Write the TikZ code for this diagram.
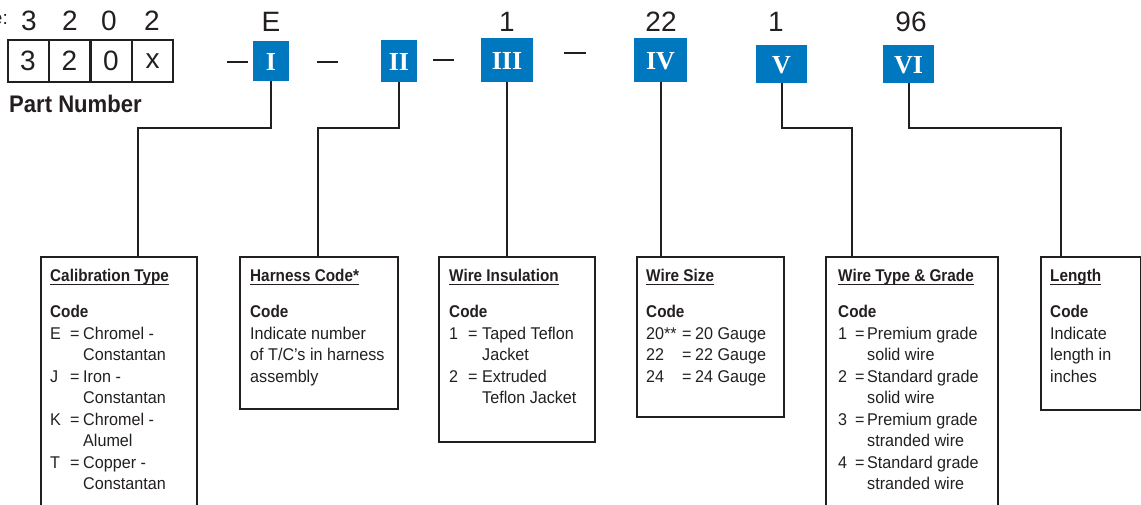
\documentclass[tikz,border=0pt]{standalone}
\usepackage{fontspec}
\setmainfont{Liberation Sans}
\newfontfamily\nar[FakeStretch=0.95]{Liberation Sans}
\newfontfamily\narb[FakeStretch=0.9]{Liberation Sans}
\newfontfamily\pnfont[FakeStretch=0.92]{Liberation Sans}
\newfontfamily\romfont{Liberation Serif}
\definecolor{pnblue}{RGB}{0,120,192}
\definecolor{ink}{RGB}{35,31,32}
\newcommand\myul[1]{\setbox0\hbox{#1}\rlap{\rule[-2.6pt]{\wd0}{0.9pt}}\box0}
\newcommand\ttl[1]{\myul{\narb\bfseries #1}}
\newcommand\cod{{\narb\bfseries Code}}
\newcommand\ent[4]{\makebox[#1][l]{#3}\makebox[#2][l]{=}#4}
\usetikzlibrary{calc}
\tikzset{
  x=1pt, y=-1pt,
  bluebox/.style={fill=pnblue, inner sep=0pt, text=white,
    font=\romfont\bfseries\fontsize{26}{26}\selectfont, text height=19pt, text depth=0pt},
  topnum/.style={anchor=base, inner sep=0pt, text=ink, font=\fontsize{28}{28}\selectfont},
  digitbox/.style={draw=ink, line width=2pt, minimum width=41pt, minimum height=42pt,
    inner sep=0pt, text=ink, font=\fontsize{28}{28}\selectfont},
  infobox/.style={draw=ink, line width=2pt, anchor=north west, inner sep=0pt},
  boxtext/.style={anchor=base west, inner sep=0pt, text=ink,
    font=\nar\fontsize{17}{21.5}\selectfont},
  conn/.style={draw=ink, line width=2pt},
  dashmark/.style={draw=ink, line width=2.2pt},
}
\begin{document}
\begin{tikzpicture}
\clip (0,0) rectangle (1141,505);
% example label (clipped at left edge, as in the reference)
\node[anchor=base east, inner sep=0pt, text=ink, font=\fontsize{19}{19}\selectfont] (ex) at (8,25) {Example:};
% top numbers
\node[topnum] (d1) at (29,31) {3};
\node[topnum] (d2) at (70,31) {2};
\node[topnum] (d3) at (109,31) {0};
\node[topnum] (d4) at (152,31) {2};
\node[topnum] (tE) at (271,32) {E};
\node[topnum] (t1) at (507,32) {1};
\node[topnum] (t22) at (661,32) {22};
\node[topnum] (t1b) at (776,32) {1};
\node[topnum] (t96) at (911,32) {96};
% part number boxes
\node[digitbox] (b1) at (28,61) {3};
\node[digitbox] (b2) at (69.5,61) {2};
\node[digitbox] (b3) at (111,61) {0};
\node[digitbox] (b4) at (152.5,61) {x};
\node[anchor=base west, inner sep=0pt, text=ink, font=\pnfont\bfseries\fontsize{24}{24}\selectfont] (pn) at (9,113) {Part Number};
% dashes
\draw[dashmark] (227,62) -- (248,62);
\draw[dashmark] (317,62) -- (338,62);
\draw[dashmark] (433,60) -- (454,60);
\draw[dashmark] (564,53) -- (586,53);
% blue boxes
\node[bluebox, minimum width=36pt, minimum height=40pt] (I) at (271,61) {I};
\node[bluebox, minimum width=36pt, minimum height=42pt] (II) at (399,61) {II};
\node[bluebox, minimum width=52pt, minimum height=44pt] (III) at (507,60) {III};
\node[bluebox, minimum width=53pt, minimum height=44pt] (IV) at (660.5,60) {IV};
\node[bluebox, minimum width=51pt, minimum height=38pt] (V) at (781.5,64) {V};
\node[bluebox, minimum width=51pt, minimum height=38pt] (VI) at (908.5,64) {VI};
% info boxes
\node[infobox, minimum width=156pt, minimum height=280pt] (cal) at (40,256) {};
\node[infobox, minimum width=158pt, minimum height=152pt] (har) at (239,256) {};
\node[infobox, minimum width=156pt, minimum height=185pt] (ins) at (438,256) {};
\node[infobox, minimum width=147pt, minimum height=160pt] (size) at (636,256) {};
\node[infobox, minimum width=172pt, minimum height=280pt] (type) at (825,256) {};
\node[infobox, minimum width=100pt, minimum height=153pt] (len) at (1040,256) {};
% connectors
\draw[conn] (I.south) -- ++(0,47) -| ($(cal.north west)+(98,0)$);
\draw[conn] (II.south) -- ++(0,46) -| ($(har.north west)+(79,0)$);
\draw[conn] (III.south) -- (III.south |- ins.north);
\draw[conn] (IV.south) -- (IV.south |- size.north);
\draw[conn] (V.south) -- ++(0,45) -| ($(type.north west)+(27,0)$);
\draw[conn] (VI.south) -- ++(0,45) -| ($(len.north west)+(21,0)$);
% box texts
\node[boxtext] (calt) at (50,282) {\begin{tabular}[t]{@{}l@{}}
\ttl{Calibration Type}\\[14.5pt]
\cod\\
\ent{20pt}{13pt}{E}{Chromel -}\\
\hspace*{33pt}Constantan\\
\ent{20pt}{13pt}{J}{Iron -}\\
\hspace*{33pt}Constantan\\
\ent{20pt}{13pt}{K}{Chromel -}\\
\hspace*{33pt}Alumel\\
\ent{20pt}{13pt}{T}{Copper -}\\
\hspace*{33pt}Constantan
\end{tabular}};
\node[boxtext] (hart) at (250,282) {\begin{tabular}[t]{@{}l@{}}
\ttl{Harness Code*}\\[14.5pt]
\cod\\
Indicate number\\
of T/C’s in harness\\
assembly
\end{tabular}};
\node[boxtext] (inst) at (449,282) {\begin{tabular}[t]{@{}l@{}}
\ttl{Wire Insulation}\\[14.5pt]
\cod\\
\ent{19pt}{14pt}{1}{Taped Teflon}\\
\hspace*{33pt}Jacket\\
\ent{19pt}{14pt}{2}{Extruded}\\
\hspace*{33pt}Teflon Jacket
\end{tabular}};
\node[boxtext] (sizet) at (646,282) {\begin{tabular}[t]{@{}l@{}}
\ttl{Wire Size}\\[14.5pt]
\cod\\
\ent{36pt}{13pt}{20**}{20 Gauge}\\
\ent{36pt}{13pt}{22}{22 Gauge}\\
\ent{36pt}{13pt}{24}{24 Gauge}
\end{tabular}};
\node[boxtext] (typet) at (838,282) {\begin{tabular}[t]{@{}l@{}}
\ttl{Wire Type \& Grade}\\[14.5pt]
\cod\\
\ent{17pt}{12pt}{1}{Premium grade}\\
\hspace*{29pt}solid wire\\
\ent{17pt}{12pt}{2}{Standard grade}\\
\hspace*{29pt}solid wire\\
\ent{17pt}{12pt}{3}{Premium grade}\\
\hspace*{29pt}stranded wire\\
\ent{17pt}{12pt}{4}{Standard grade}\\
\hspace*{29pt}stranded wire
\end{tabular}};
\node[boxtext] (lent) at (1050,282) {\begin{tabular}[t]{@{}l@{}}
\ttl{Length}\\[14.5pt]
\cod\\
Indicate\\
length in\\
inches
\end{tabular}};
\end{tikzpicture}
\end{document}
